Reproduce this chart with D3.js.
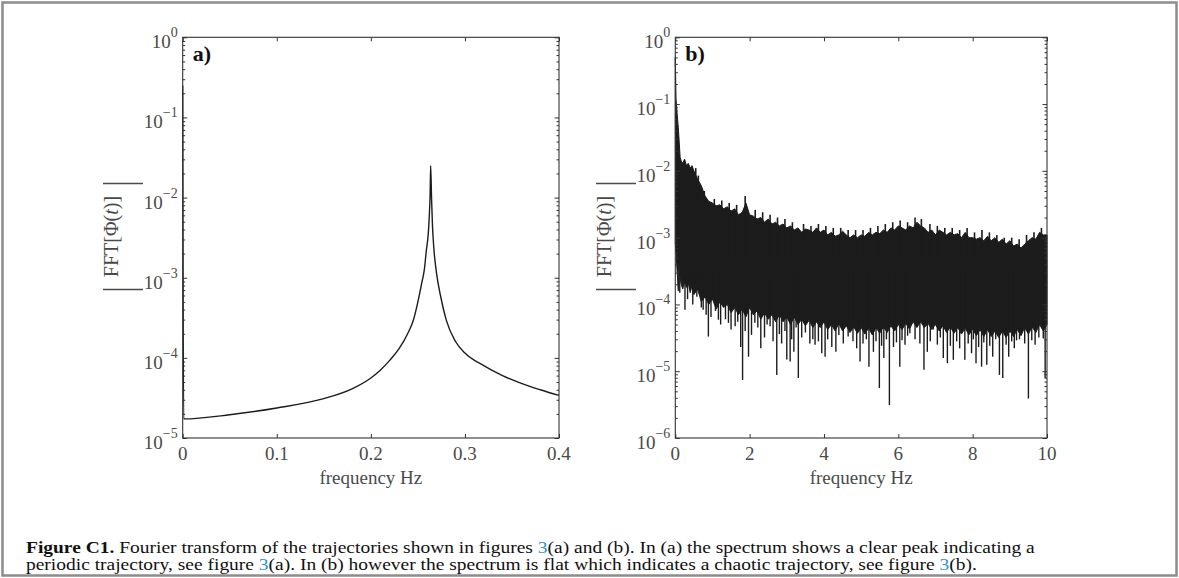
<!DOCTYPE html>
<meta charset="utf-8" />
<html>
<head>
<script src="https://d3js.org/d3.v7.min.js"></script>
<style>
  body { margin: 0; background: #fff; }
  text { font-family: "Liberation Serif", "DejaVu Serif", serif; }
</style>
</head>
<body>
<script type="text/javascript">
// ---- data ----
// panel a) periodic trajectory: frequency (Hz) and |FFT|
var freqA = [0, 0.001, 0.05, 0.1, 0.15, 0.18, 0.2, 0.21, 0.22, 0.23, 0.24, 0.245, 0.25, 0.254, 0.257, 0.259,
             0.261, 0.262, 0.263, 0.2636, 0.2645, 0.2655, 0.267, 0.27, 0.274, 0.28, 0.29, 0.3, 0.32, 0.34, 0.36, 0.38, 0.4];
var ampA  = [0.25, 1.73e-5, 1.95e-5, 2.37e-5, 3.1e-5, 4.1e-5, 5.6e-5, 7.0e-5, 9.3e-5, 1.3e-4, 2.1e-4, 2.9e-4, 5.0e-4, 8.5e-4, 1.3e-3, 2.2e-3,
             3.5e-3, 5.5e-3, 1.1e-2, 0.025, 1.0e-2, 4.5e-3, 2.3e-3, 1.1e-3, 6.0e-4, 3.0e-4, 1.6e-4, 1.15e-4, 8.0e-5, 6.0e-5, 4.8e-5, 4.0e-5, 3.4e-5];

// panel b) chaotic trajectory: band of the noisy spectrum (top and bottom edge)
var freqB = [0, 0.02, 0.05, 0.08, 0.1, 0.13, 0.16, 0.2, 0.25, 0.3, 0.35, 0.4, 0.45, 0.5,
             0.6, 0.7, 0.8, 0.9, 1.0, 1.1, 1.2, 1.3, 1.4, 1.5, 1.6, 1.7, 1.8, 1.9, 2.0,
             2.1, 2.2, 2.3, 2.4, 2.5, 2.6, 2.7, 2.8, 2.9, 3.0, 3.1, 3.2, 3.3, 3.4, 3.5,
             3.6, 3.7, 3.8, 3.9, 4.0, 4.1, 4.2, 4.3, 4.4, 4.5, 4.6, 4.7, 4.8, 4.9, 5.0,
             5.1, 5.2, 5.3, 5.4, 5.5, 5.6, 5.7, 5.8, 5.9, 6.0, 6.1, 6.2, 6.3, 6.4, 6.5,
             6.6, 6.7, 6.8, 6.9, 7.0, 7.1, 7.2, 7.3, 7.4, 7.5, 7.6, 7.7, 7.8, 7.9, 8.0,
             8.1, 8.2, 8.3, 8.4, 8.5, 8.6, 8.7, 8.8, 8.9, 9.0, 9.1, 9.2, 9.3, 9.4, 9.5,
             9.6, 9.7, 9.8, 9.9, 10.0];
var upperB = [0.5, 0.12, 0.07, 0.045, 0.03, 0.016, 0.014, 0.013, 0.015, 0.012, 0.013, 0.011, 0.012, 0.01,
              0.0075, 0.006, 0.0042, 0.0035, 0.0033, 0.003, 0.0031, 0.0027, 0.0029, 0.0025, 0.0027, 0.0022, 0.0024, 0.0033, 0.0022,
              0.0021, 0.0019, 0.002, 0.0017, 0.0019, 0.0016, 0.0017, 0.0015, 0.0016, 0.0014, 0.0015, 0.0013, 0.0014, 0.0012, 0.00135,
              0.0013, 0.0012, 0.0014, 0.0012, 0.0013, 0.0011, 0.0012, 0.00105, 0.0011, 0.00125, 0.0011, 0.001, 0.0011, 0.001, 0.0011,
              0.00105, 0.0012, 0.0011, 0.0012, 0.00115, 0.0013, 0.0012, 0.0014, 0.0013, 0.0015, 0.0014, 0.0013, 0.0015, 0.0014, 0.0017,
              0.0015, 0.0014, 0.0012, 0.0013, 0.0011, 0.0013, 0.0012, 0.0011, 0.0012, 0.0011, 0.00115, 0.001, 0.0012, 0.001, 0.001,
              0.00095, 0.001, 0.0009, 0.00105, 0.0009, 0.001, 0.00085, 0.00095, 0.0008, 0.0009, 0.00075, 0.0008, 0.0007, 0.0008, 0.0009,
              0.001, 0.00095, 0.0012, 0.0011, 0.0011];
var lowerB = [8e-4, 6e-4, 3e-4, 1.6e-4, 4e-4, 2.5e-4, 2.0e-4, 1.7e-4, 2.2e-4, 1.8e-4, 2.1e-4, 1.5e-4, 1.9e-4, 1.4e-4,
              1.7e-4, 1.1e-4, 1.3e-4, 1.0e-4, 1.2e-4, 8.5e-5, 1.1e-4, 9e-5, 1.0e-4, 7.5e-5, 9e-5, 7e-5, 8.5e-5, 6.5e-5, 9e-5,
              7e-5, 8e-5, 6e-5, 7.5e-5, 6e-5, 7e-5, 5.5e-5, 7e-5, 5.5e-5, 6.5e-5, 5e-5, 6.5e-5, 5e-5, 6e-5, 4.8e-5,
              5.8e-5, 4.5e-5, 5.5e-5, 4.5e-5, 5.5e-5, 4.2e-5, 5e-5, 4e-5, 5.2e-5, 4e-5, 4.8e-5, 3.8e-5, 4.6e-5, 3.7e-5, 4.5e-5,
              3.6e-5, 4.4e-5, 3.5e-5, 4.5e-5, 3.7e-5, 4.6e-5, 3.8e-5, 4.8e-5, 4e-5, 5e-5, 4.2e-5, 5.2e-5, 4.3e-5, 5.5e-5, 4.5e-5,
              5.5e-5, 4.5e-5, 5.2e-5, 4.2e-5, 5e-5, 4e-5, 4.8e-5, 3.8e-5, 4.6e-5, 3.7e-5, 4.5e-5, 3.6e-5, 4.4e-5, 3.5e-5, 4.3e-5,
              3.4e-5, 4.2e-5, 3.3e-5, 4.2e-5, 3.3e-5, 4e-5, 3.2e-5, 4e-5, 3.2e-5, 4e-5, 3.3e-5, 4.2e-5, 3.4e-5, 4.5e-5, 3.6e-5,
              4.6e-5, 3.8e-5, 5e-5, 4e-5, 5e-5];
// downward spikes below the band
var spikeF = [0.26, 0.40, 0.53, 0.65, 0.75, 0.89, 1.02, 1.16, 1.29, 1.43, 1.61, 1.76, 1.81, 1.97, 2.14, 2.30, 2.55, 2.73, 2.86,
              3.0, 3.09, 3.19, 3.31, 3.62, 3.76, 3.94, 4.03, 4.21, 4.32, 4.65, 4.97, 5.21, 5.33, 5.49, 5.61, 5.76, 5.87,
              6.04, 6.18, 6.31, 6.69, 6.78, 6.94, 7.21, 7.32, 7.48, 7.79, 7.97, 8.09, 8.24, 8.38, 8.54, 8.72, 8.81, 8.97,
              9.18, 9.5, 9.59, 9.9, 9.95,
              0.12, 0.33, 0.47, 0.58, 0.70, 0.83, 0.96, 1.08, 1.22, 1.35, 1.50, 1.68, 1.88, 2.05, 2.22, 2.40, 2.47, 2.63,
              2.80, 2.95, 3.13, 3.25, 3.40, 3.50, 3.70, 3.85, 4.10, 4.40, 4.52, 4.78, 4.88, 5.05, 5.14, 5.40, 5.55, 5.68,
              5.95, 6.10, 6.25, 6.45, 6.58, 6.86, 7.05, 7.13, 7.40, 7.57, 7.65, 7.88, 8.02, 8.16, 8.30, 8.46, 8.62, 8.90,
              9.05, 9.12, 9.26, 9.40, 9.68, 9.78];
var spikeV = [8.3e-5, 2.3e-4, 1.95e-4, 2.2e-4, 8.3e-5, 3.3e-5, 1.2e-4, 5.9e-5, 1.05e-4, 5.3e-5, 4.7e-5, 2.3e-5, 7.4e-6, 1.65e-5, 5.3e-5, 2.2e-5, 4.7e-5, 8.8e-6, 2.6e-5,
              1.5e-5, 1.4e-5, 1.95e-5, 7.9e-6, 2.6e-5, 2.5e-5, 1.86e-5, 1.65e-5, 2.3e-5, 1.95e-5, 3.3e-5, 1.4e-5, 1.17e-5, 1.95e-5, 5.6e-6, 1.58e-5, 3.1e-6, 2.3e-5,
              1.17e-5, 2.5e-5, 3.7e-5, 1.05e-5, 1.95e-5, 4.2e-5, 1.58e-5, 1.32e-5, 1.48e-5, 1.48e-5, 1.86e-5, 1.32e-5, 1.17e-5, 1.25e-5, 1.65e-5, 8.8e-6, 7.9e-6, 1.65e-5,
              2.9e-5, 3.9e-6, 2.9e-5, 3.1e-5, 7.9e-6,
              1.5e-4, 1.2e-4, 1.0e-4, 1.3e-4, 9e-5, 7e-5, 6.5e-5, 8e-5, 5e-5, 6e-5, 4.2e-5, 5.5e-5, 4e-5, 3.5e-5, 4.5e-5, 3.2e-5, 5e-5, 2.8e-5,
              3.6e-5, 4e-5, 3e-5, 4.5e-5, 3.2e-5, 3.8e-5, 3e-5, 2.8e-5, 3e-5, 3.5e-5, 2.6e-5, 2.8e-5, 2.2e-5, 2.6e-5, 3e-5, 2.8e-5, 2.4e-5, 3e-5,
              2.7e-5, 2.9e-5, 3.4e-5, 3e-5, 2.6e-5, 2.8e-5, 2.5e-5, 3.2e-5, 2.4e-5, 2.8e-5, 2.2e-5, 2.6e-5, 3e-5, 2.3e-5, 2.7e-5, 2.4e-5, 3e-5, 2.5e-5,
              2.8e-5, 2.2e-5, 3e-5, 2.6e-5, 2.5e-5, 3.2e-5];
// small upward teeth on the top edge of the band
var toothF = [0.55, 0.62, 0.78, 1.05, 1.25, 1.45, 1.65, 1.88, 2.15, 2.35, 2.55, 2.75, 2.95, 3.15, 3.45, 3.65, 3.85,
              4.05, 4.25, 4.45, 4.65, 4.85, 5.05, 5.25, 5.45, 5.65, 5.85, 6.05, 6.25, 6.45, 6.62, 6.85, 7.05, 7.25,
              7.45, 7.65, 7.85, 8.05, 8.25, 8.45, 8.65, 8.85, 9.05, 9.25, 9.45, 9.65, 9.85];
var toothV = [0.011, 0.0085, 0.005, 0.0038, 0.0036, 0.0033, 0.0031, 0.0042, 0.0026, 0.0024, 0.0022, 0.002, 0.0019, 0.0017, 0.0016, 0.0015, 0.0016,
              0.0015, 0.0014, 0.0014, 0.0013, 0.0013, 0.0013, 0.0014, 0.0015, 0.0016, 0.0017, 0.0018, 0.0017, 0.002, 0.0019, 0.0016, 0.0015, 0.0014,
              0.0014, 0.0013, 0.0014, 0.0012, 0.0013, 0.0012, 0.0011, 0.001, 0.001, 0.00095, 0.0011, 0.0012, 0.0014];

var ticksA = [0, 0.1, 0.2, 0.3, 0.4];
var ticksB = [0, 2, 4, 6, 8, 10];
var decadesA = [-5, -4, -3, -2, -1, 0];
var decadesB = [-6, -5, -4, -3, -2, -1, 0];

// ---- layout ----
var width = 1179, height = 578;
var axisCol = '#333', textCol = '#4a4a4a', lineCol = '#1c1c1c';

var svg = d3.select('body').append('svg')
    .attr('width', width)
    .attr('height', height);

// grey frame around figure + caption
svg.append('rect')
    .attr('x', 2.5).attr('y', 2.5)
    .attr('width', width - 5).attr('height', height - 5)
    .attr('fill', 'none')
    .attr('stroke', '#8c8c8c')
    .attr('stroke-width', 2.5);

function minorTicks(decades) {
  var out = [];
  for (var i = 0; i < decades.length - 1; i++) {
    for (var k = 2; k <= 9; k++) out.push(k * Math.pow(10, decades[i]));
  }
  return out;
}

function drawFrame(g, x, y, xTicks, decades, xLabel, tag) {
  var w = x.range()[1] - x.range()[0];
  var h = y.range()[0] - y.range()[1];
  var majors = decades.map(function(d) { return Math.pow(10, d); });
  var minors = minorTicks(decades);

  // inward ticks on all four sides
  g.append('g').attr('transform', 'translate(0,' + h + ')')
      .call(d3.axisBottom(x).tickValues(xTicks).tickSize(-4).tickFormat(''));
  g.append('g')
      .call(d3.axisTop(x).tickValues(xTicks).tickSize(-4).tickFormat(''));
  g.append('g')
      .call(d3.axisLeft(y).tickValues(majors).tickSize(-4.5).tickFormat(''));
  g.append('g')
      .call(d3.axisLeft(y).tickValues(minors).tickSize(-2.5).tickFormat(''));
  g.append('g').attr('transform', 'translate(' + w + ',0)')
      .call(d3.axisRight(y).tickValues(majors).tickSize(-4.5).tickFormat(''));
  g.append('g').attr('transform', 'translate(' + w + ',0)')
      .call(d3.axisRight(y).tickValues(minors).tickSize(-2.5).tickFormat(''));
  g.selectAll('.domain').remove();
  g.selectAll('.tick line').attr('stroke', axisCol).attr('stroke-width', 1);

  g.append('rect')
      .attr('width', w).attr('height', h)
      .attr('fill', 'none')
      .attr('stroke', axisCol)
      .attr('stroke-width', 1.1);

  // x tick labels
  g.selectAll('.xlab')
      .data(xTicks)
      .enter().append('text')
      .attr('class', 'xlab')
      .attr('x', function(d) { return x(d); })
      .attr('y', h + 22)
      .attr('text-anchor', 'middle')
      .attr('font-size', 19)
      .attr('fill', textCol)
      .text(function(d) { return d; });

  // y tick labels 10^n
  var yl = g.selectAll('.ylab')
      .data(decades)
      .enter().append('text')
      .attr('class', 'ylab')
      .attr('x', -5)
      .attr('y', function(d) { return y(Math.pow(10, d)) + 11; })
      .attr('text-anchor', 'end')
      .attr('font-size', 19)
      .attr('fill', textCol);
  yl.append('tspan').text('10');
  yl.append('tspan')
      .attr('font-size', 14)
      .attr('dy', -11)
      .text(function(d) { return d < 0 ? '\u2212' + (-d) : d; });

  // x axis title
  g.append('text')
      .attr('x', w / 2)
      .attr('y', h + 46)
      .attr('text-anchor', 'middle')
      .attr('font-size', 19)
      .attr('fill', textCol)
      .text(xLabel);

  // panel tag
  g.append('text')
      .attr('x', 10)
      .attr('y', 24)
      .attr('font-size', 22)
      .attr('font-weight', 'bold')
      .attr('fill', '#111')
      .text(tag);
}

function drawYTitle(cx, cy) {
  var t = svg.append('g').attr('transform', 'translate(' + cx + ',' + cy + ') rotate(-90)');
  var tx = t.append('text')
      .attr('x', 0).attr('y', 0)
      .attr('text-anchor', 'middle')
      .attr('font-size', 20)
      .attr('fill', textCol);
  tx.append('tspan').text('FFT[\u03A6(');
  tx.append('tspan').attr('font-style', 'italic').text('t');
  tx.append('tspan').text(')]');
  // big absolute value bars
  [-53, 53].forEach(function(px) {
    t.append('line')
        .attr('x1', px).attr('x2', px)
        .attr('y1', -15).attr('y2', 25)
        .attr('stroke', textCol)
        .attr('stroke-width', 1.3);
  });
}

// ---- panel a ----
var mA = {left: 182.7, top: 37.3, right: 559, bottom: 438};
var gA = svg.append('g').attr('transform', 'translate(' + mA.left + ',' + mA.top + ')');
var xA = d3.scaleLinear().domain([0, 0.4]).range([0, mA.right - mA.left]);
var yA = d3.scaleLog().domain([1e-5, 1]).range([mA.bottom - mA.top, 0]);

var lineA = d3.line()
    .x(function(d) { return xA(d[0]); })
    .y(function(d) { return yA(d[1]); })
    .curve(d3.curveMonotoneX);
gA.append('path')
    .attr('d', lineA(d3.zip(freqA, ampA)))
    .attr('fill', 'none')
    .attr('stroke', lineCol)
    .attr('stroke-width', 1.4);
drawFrame(gA, xA, yA, ticksA, decadesA, 'frequency Hz', 'a)');
drawYTitle(118, 236.5);

// ---- panel b ----
var mB = {left: 675.3, top: 37.3, right: 1047, bottom: 438};
var gB = svg.append('g').attr('transform', 'translate(' + mB.left + ',' + mB.top + ')');
var xB = d3.scaleLinear().domain([0, 10]).range([0, mB.right - mB.left]);
var yB = d3.scaleLog().domain([1e-6, 1]).range([mB.bottom - mB.top, 0]);

var bandB = d3.area()
    .x(function(d) { return xB(d[0]); })
    .y0(function(d) { return yB(d[2]); })
    .y1(function(d) { return yB(d[1]); });
gB.append('path')
    .attr('d', bandB(d3.zip(freqB, upperB, lowerB)))
    .attr('fill', lineCol)
    .attr('stroke', lineCol)
    .attr('stroke-width', 1);
gB.selectAll('.spike')
    .data(d3.zip(spikeF, spikeV))
    .enter().append('line')
    .attr('class', 'spike')
    .attr('x1', function(d) { return xB(d[0]); })
    .attr('x2', function(d) { return xB(d[0]); })
    .attr('y1', yB(3e-4))
    .attr('y2', function(d) { return yB(d[1]); })
    .attr('stroke', lineCol)
    .attr('stroke-width', 1.4);
gB.selectAll('.tooth')
    .data(d3.zip(toothF, toothV))
    .enter().append('line')
    .attr('class', 'tooth')
    .attr('x1', function(d) { return xB(d[0]); })
    .attr('x2', function(d) { return xB(d[0]); })
    .attr('y1', yB(5e-4))
    .attr('y2', function(d) { return yB(d[1]); })
    .attr('stroke', lineCol)
    .attr('stroke-width', 1.6);
drawFrame(gB, xB, yB, ticksB, decadesB, 'frequency Hz', 'b)');
drawYTitle(611, 236.5);

// ---- caption ----
var capX = 26;
var cap1 = svg.append('text').attr('x', capX).attr('y', 553).attr('font-size', 16.5).attr('fill', '#111');
cap1.append('tspan').attr('font-weight', 'bold').text('Figure C1.');
cap1.append('tspan').text(' Fourier transform of the trajectories shown in figures ');
cap1.append('tspan').attr('fill', '#2b95cf').text('3');
cap1.append('tspan').text('(a) and (b). In (a) the spectrum shows a clear peak indicating a');

var cap2 = svg.append('text').attr('x', capX).attr('y', 570).attr('font-size', 16.5).attr('fill', '#111');
cap2.append('tspan').text('periodic trajectory, see figure ');
cap2.append('tspan').attr('fill', '#2b95cf').text('3');
cap2.append('tspan').text('(a). In (b) however the spectrum is flat which indicates a chaotic trajectory, see figure ');
cap2.append('tspan').attr('fill', '#2b95cf').text('3');
cap2.append('tspan').text('(b).');

// squeeze caption to the measured line width
var k = (1035 - capX) / cap1.node().getComputedTextLength();
[cap1, cap2].forEach(function(c) {
  var yy = +c.attr('y');
  c.attr('transform', 'translate(' + capX + ',' + yy + ') scale(' + k + ',1) translate(' + (-capX) + ',' + (-yy) + ')');
});
</script>
</body>
</html>
